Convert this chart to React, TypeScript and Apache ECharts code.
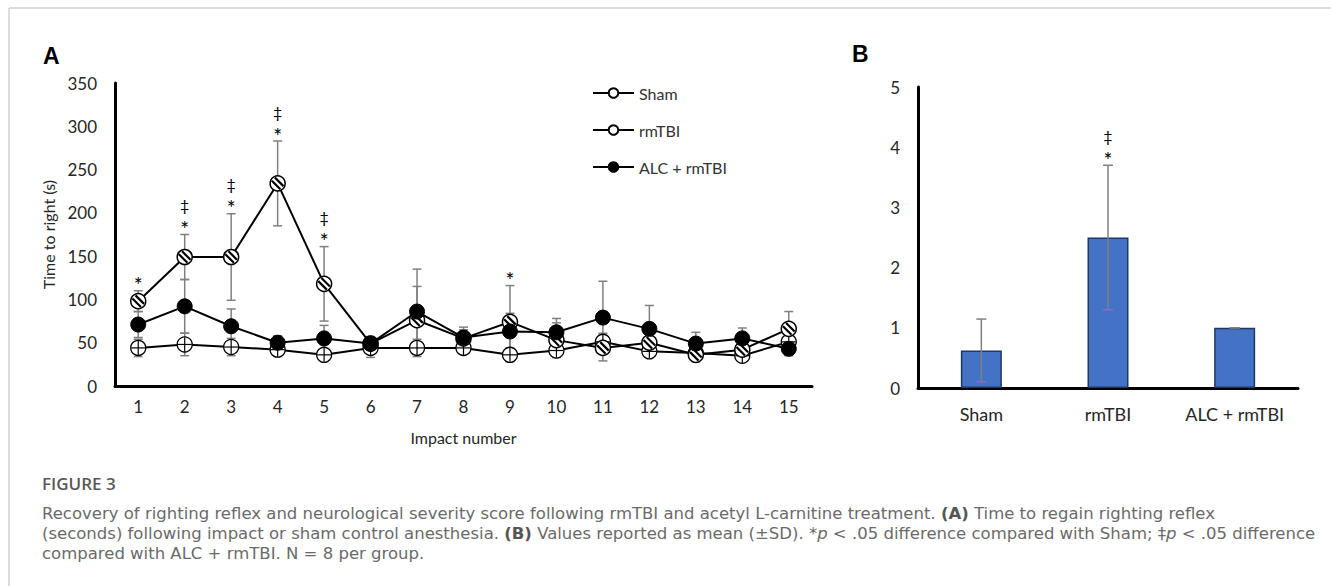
import React, { useEffect, useRef } from "react";
import * as echarts from "echarts";

const impacts = ["1", "2", "3", "4", "5", "6", "7", "8", "9", "10", "11", "12", "13", "14", "15"];
const shamMean = [44, 48, 45, 42, 36, 44, 44, 44, 36, 41, 51, 40, 38, 35, 51];
const shamSD = [10, 13, 10, 8, 6, 11, 10, 6, 8, 8, 10, 6, 8, 6, 10];
const rmtbiMean = [98, 149, 149, 234, 118, 49, 76, 55, 74, 53, 44, 50, 36, 42, 66];
const rmtbiSD = [12, 26, 50, 49, 43, 8, 39, 10, 42, 20, 15, 10, 8, 10, 20];
const alcMean = [71, 92, 69, 50, 55, 49, 86, 56, 63, 62, 79, 66, 49, 55, 43];
const alcSD = [15, 31, 20, 8, 15, 8, 49, 12, 21, 16, 42, 27, 13, 12, 8];
const annotationA = ["*", "‡*", "‡*", "‡*", "‡*", "", "", "", "*", "", "", "", "", "", ""];

const groupsB = ["Sham", "rmTBI", "ALC + rmTBI"];
const scoreMean = [0.625, 2.5, 1.0];
const scoreSD = [0.52, 1.2, 0];
const annotationB = ["", "‡*", ""];

const yTicksA = { min: 0, max: 350, interval: 50 };
const yTicksB = { min: 0, max: 5, interval: 1 };

const captionLines = [
  "Recovery of righting reflex and neurological severity score following rmTBI and acetyl L-carnitine treatment. {b|(A)} Time to regain righting reflex",
  "(seconds) following impact or sham control anesthesia. {b|(B)} Values reported as mean (±SD). *{i|p} < .05 difference compared with Sham; ‡{i|p} < .05 difference",
  "compared with ALC + rmTBI. N = 8 per group.",
];

const FONT = "Lato, 'Open Sans', sans-serif";
const CAP_FONT = "'DejaVu Sans', sans-serif";
const CAP_SIZE = 16.5;
const ERR = "#808080";

function makeErrRender(capHalf: number, notes: string[] | null) {
  return (params: any, api: any) => {
    const x = api.value(0);
    const m = api.value(1);
    const s = api.value(2);
    const top = api.coord([x, m + s]);
    const bot = api.coord([x, m - s]);
    const style = { stroke: ERR, lineWidth: 1.5 };
    const children: any[] = [
      { type: "line", shape: { x1: top[0], y1: top[1], x2: bot[0], y2: bot[1] }, style },
      { type: "line", shape: { x1: top[0] - capHalf, y1: top[1], x2: top[0] + capHalf, y2: top[1] }, style },
      { type: "line", shape: { x1: bot[0] - capHalf, y1: bot[1], x2: bot[0] + capHalf, y2: bot[1] }, style },
    ];
    const note = notes ? notes[params.dataIndex] : "";
    if (note) {
      if (note.indexOf("*") >= 0) {
        children.push({
          type: "text",
          style: { text: "*", x: top[0], y: top[1] - 6, textAlign: "center", textVerticalAlign: "middle", align: "center", verticalAlign: "middle", fill: "#000", fontSize: 21, fontFamily: FONT },
        });
      }
      if (note.indexOf("‡") >= 0) {
        children.push({
          type: "text",
          style: { text: "‡", x: top[0], y: top[1] - 30, textAlign: "center", textVerticalAlign: "middle", align: "center", verticalAlign: "middle", fill: "#000", fontSize: 16, fontFamily: FONT },
        });
      }
    }
    return { type: "group", children };
  };
}

function shamOverlay(params: any, api: any) {
  const p = api.coord([api.value(0), api.value(1)]);
  const r = 7;
  const style = { stroke: "#000", lineWidth: 1.2 };
  return {
    type: "group",
    children: [
      { type: "line", shape: { x1: p[0] - r, y1: p[1], x2: p[0] + r, y2: p[1] }, style },
      { type: "line", shape: { x1: p[0], y1: p[1] - r, x2: p[0], y2: p[1] + r }, style },
    ],
  };
}

function hatchOverlay(params: any, api: any) {
  const p = api.coord([api.value(0), api.value(1)]);
  const r = 6.4;
  const k = Math.SQRT1_2;
  const children: any[] = [];
  [-2.2, 2.2].forEach((d) => {
    const cx = p[0] + d * k;
    const cy = p[1] - d * k;
    const h = Math.sqrt(r * r - d * d);
    children.push({
      type: "line",
      shape: { x1: cx - h * k, y1: cy - h * k, x2: cx + h * k, y2: cy + h * k },
      style: { stroke: "#000", lineWidth: 2.2 },
    });
  });
  return { type: "group", children };
}

export default function App() {
  const ref = useRef<HTMLDivElement>(null);
  useEffect(() => {
    document.body.style.margin = "0";
    if (!ref.current) return;
    const chart = echarts.init(ref.current, null, { renderer: "svg" });
    const idx = (arr: number[], sd: number[]) => arr.map((v, i) => [i, v, sd[i]]);
    const axisLineStyle = { color: "#000", width: 3 };
    const option: any = {
      animation: false,
      backgroundColor: "#fff",
      textStyle: { fontFamily: FONT },
      grid: [
        { left: 115, top: 83, width: 697, height: 303 },
        { left: 918, top: 87, width: 380, height: 301 },
      ],
      xAxis: [
        {
          type: "category",
          gridIndex: 0,
          data: impacts,
          axisLine: { lineStyle: axisLineStyle },
          axisTick: { show: false },
          axisLabel: { color: "#262626", fontSize: 17, margin: 12, fontFamily: FONT, interval: 0 },
          name: "Impact number",
          nameLocation: "middle",
          nameGap: 43,
          nameTextStyle: { color: "#262626", fontSize: 16, fontFamily: FONT },
        },
        {
          type: "category",
          gridIndex: 1,
          data: groupsB,
          axisLine: { lineStyle: axisLineStyle },
          axisTick: { show: false },
          axisLabel: { color: "#262626", fontSize: 18, margin: 17, fontFamily: FONT, interval: 0 },
        },
      ],
      yAxis: [
        {
          type: "value",
          gridIndex: 0,
          min: yTicksA.min,
          max: yTicksA.max,
          interval: yTicksA.interval,
          axisLine: { show: true, lineStyle: axisLineStyle },
          axisTick: { show: false },
          splitLine: { show: false },
          axisLabel: { color: "#262626", fontSize: 17, margin: 18, fontFamily: FONT },
          name: "Time to right (s)",
          nameLocation: "middle",
          nameGap: 55,
          nameTextStyle: { color: "#262626", fontSize: 16, fontFamily: FONT },
        },
        {
          type: "value",
          gridIndex: 1,
          min: yTicksB.min,
          max: yTicksB.max,
          interval: yTicksB.interval,
          axisLine: { show: true, lineStyle: axisLineStyle },
          axisTick: { show: false },
          splitLine: { show: false },
          axisLabel: { color: "#262626", fontSize: 17, margin: 18, fontFamily: FONT },
        },
      ],
      legend: {
        orient: "vertical",
        left: 592,
        top: 85,
        padding: 0,
        itemWidth: 41,
        itemHeight: 12,
        itemGap: 21,
        selectedMode: false,
        data: ["Sham", "rmTBI", "ALC + rmTBI"],
        textStyle: { color: "#333", fontSize: 16, fontFamily: FONT },
      },
      series: [
        { type: "custom", name: "errSham", z: 1, xAxisIndex: 0, yAxisIndex: 0, silent: true, renderItem: makeErrRender(4.5, null), data: idx(shamMean, shamSD) },
        { type: "custom", name: "errRm", z: 1, xAxisIndex: 0, yAxisIndex: 0, silent: true, renderItem: makeErrRender(4.5, annotationA), data: idx(rmtbiMean, rmtbiSD) },
        { type: "custom", name: "errAlc", z: 1, xAxisIndex: 0, yAxisIndex: 0, silent: true, renderItem: makeErrRender(4.5, null), data: idx(alcMean, alcSD) },
        {
          type: "line", name: "Sham", z: 2, xAxisIndex: 0, yAxisIndex: 0, silent: true, data: shamMean,
          symbol: "circle", symbolSize: 15,
          itemStyle: { color: "#fff", borderColor: "#000", borderWidth: 1.3 },
          lineStyle: { color: "#000", width: 2 },
        },
        { type: "custom", name: "ovSham", z: 3, xAxisIndex: 0, yAxisIndex: 0, silent: true, renderItem: shamOverlay, data: shamMean.map((v, i) => [i, v]) },
        {
          type: "line", name: "rmTBI", z: 4, xAxisIndex: 0, yAxisIndex: 0, silent: true, data: rmtbiMean,
          symbol: "circle", symbolSize: 15,
          itemStyle: { color: "#fff", borderColor: "#000", borderWidth: 1.5 },
          lineStyle: { color: "#000", width: 2 },
        },
        { type: "custom", name: "ovRm", z: 5, xAxisIndex: 0, yAxisIndex: 0, silent: true, renderItem: hatchOverlay, data: rmtbiMean.map((v, i) => [i, v]) },
        {
          type: "line", name: "ALC + rmTBI", z: 6, xAxisIndex: 0, yAxisIndex: 0, silent: true, data: alcMean,
          symbol: "circle", symbolSize: 15,
          itemStyle: { color: "#000", borderColor: "#000", borderWidth: 1 },
          lineStyle: { color: "#000", width: 2 },
        },
        {
          type: "bar", name: "score", xAxisIndex: 1, yAxisIndex: 1, silent: true, data: scoreMean, barWidth: 41,
          itemStyle: { color: "#4472C4", borderColor: "#1F3864", borderWidth: 1.5 },
        },
        { type: "custom", name: "errB", xAxisIndex: 1, yAxisIndex: 1, silent: true, z: 5, renderItem: makeErrRender(5, annotationB), data: idx(scoreMean, scoreSD) },
      ],
      graphic: [
        { type: "line", silent: true, shape: { x1: 9, y1: 8, x2: 1331, y2: 8 }, style: { stroke: "#d0d0d0", lineWidth: 1.5 } },
        { type: "line", silent: true, shape: { x1: 9, y1: 8, x2: 9, y2: 586 }, style: { stroke: "#d0d0d0", lineWidth: 1.5 } },
        { type: "text", left: 43, top: 44, style: { text: "A", fill: "#000", fontSize: 23, fontWeight: "bold", fontFamily: "'Liberation Sans', Arial, sans-serif" } },
        { type: "text", left: 852, top: 42, style: { text: "B", fill: "#000", fontSize: 23, fontWeight: "bold", fontFamily: "'Liberation Sans', Arial, sans-serif" } },
        { type: "text", left: 42, top: 474, style: { text: "FIGURE 3", fill: "#595959", fontSize: 17, fontWeight: 600, fontFamily: "'Open Sans', sans-serif", lineHeight: 18 } },
        ...captionLines.map((line, i) => ({
          type: "text",
          left: 42,
          top: 503 + i * 20,
          style: {
            text: line,
            fill: "#6a6a6a",
            fontSize: CAP_SIZE,
            lineHeight: 20,
            fontFamily: CAP_FONT,
            rich: {
              b: { fontWeight: "bold", fontSize: CAP_SIZE, lineHeight: 20, fontFamily: CAP_FONT, fill: "#555" },
              i: { fontStyle: "italic", fontSize: CAP_SIZE, lineHeight: 20, fontFamily: CAP_FONT, fill: "#6a6a6a" },
            },
          },
        })),
      ],
    };
    chart.setOption(option);
    return () => chart.dispose();
  }, []);
  return <div ref={ref} style={{ width: 1331, height: 586 }} />;
}
